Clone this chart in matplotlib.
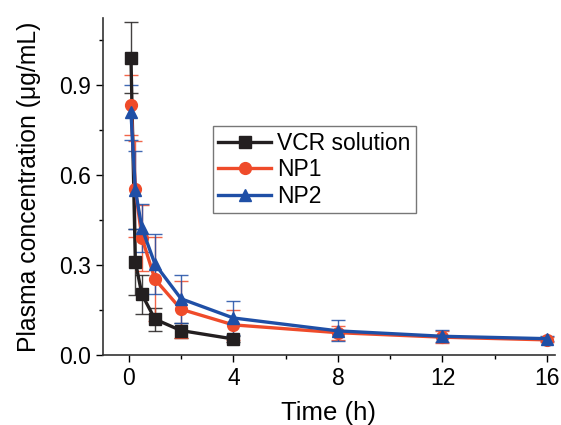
import matplotlib.pyplot as plt
from matplotlib.ticker import MultipleLocator

plt.rcParams['font.family'] = ['Liberation Sans', 'DejaVu Sans']

# sampling times (h)
t_vcr = [0.083, 0.25, 0.5, 1, 2, 4]
t_np = [0.083, 0.25, 0.5, 1, 2, 4, 8, 12, 16]

# plasma concentration (ug/mL) and SD
vcr = [0.99, 0.311, 0.202, 0.119, 0.081, 0.053]
vcr_sd = [0.118, 0.11, 0.065, 0.038, 0.025, 0.01]
np1 = [0.832, 0.553, 0.391, 0.252, 0.152, 0.100, 0.074, 0.059, 0.050]
np1_sd = [0.10, 0.16, 0.11, 0.14, 0.095, 0.05, 0.023, 0.02, 0.008]
np2 = [0.808, 0.55, 0.423, 0.303, 0.187, 0.123, 0.080, 0.062, 0.054]
np2_sd = [0.093, 0.13, 0.08, 0.10, 0.08, 0.058, 0.035, 0.02, 0.008]

black = '#231f20'
red = '#ef4b2a'
blue = '#1f4fa6'

fig = plt.figure(figsize=(5.61, 4.25), dpi=100)
ax = fig.add_axes([0.183, 0.165, 0.806, 0.792])

series = [
    (t_vcr, vcr, vcr_sd, black, 's', 'VCR solution'),
    (t_np, np1, np1_sd, red, 'o', 'NP1'),
    (t_np, np2, np2_sd, blue, '^', 'NP2'),
]
for z, (t, y, sd, c, m, lab) in enumerate(series):
    ax.errorbar(t, y, yerr=sd, fmt='none', ecolor=c, elinewidth=1.0,
                capsize=5, capthick=1.0, alpha=0.85, zorder=2 + z)
    ax.plot(t, y, color=c, marker=m, markersize=8.5, linewidth=2.4,
            label=lab, zorder=5 + z)

ax.set_xlim(-1, 16.3)
ax.set_ylim(0, 1.122)
ax.set_xticks([0, 4, 8, 12, 16])
ax.set_yticks([0.0, 0.3, 0.6, 0.9])
ax.xaxis.set_minor_locator(MultipleLocator(2))
ax.yaxis.set_minor_locator(MultipleLocator(0.15))
ax.tick_params(which='major', length=5, width=1, labelsize=16.5, direction='out')
ax.tick_params(which='minor', length=3, width=1, direction='out')
ax.set_yticklabels(['0.0', '0.3', '0.6', '0.9'])

for s in ['top', 'right']:
    ax.spines[s].set_visible(False)
for s in ['left', 'bottom']:
    ax.spines[s].set_color('#333333')
    ax.spines[s].set_linewidth(1.2)

ax.set_xlabel('Time (h)', fontsize=18.5, labelpad=8)
ax.set_ylabel('Plasma concentration (\u03bcg/mL)', fontsize=17.8, labelpad=13)

leg = ax.legend(loc='upper left', bbox_to_anchor=(0.243, 0.68), fontsize=16.5,
                frameon=True, fancybox=False, handlelength=2.3,
                handletextpad=0.27, borderpad=0.25, labelspacing=0.15,
                borderaxespad=0)
leg.get_frame().set_edgecolor('#555555')
leg.get_frame().set_linewidth(1.0)

fig.savefig('out.png', dpi=100)
